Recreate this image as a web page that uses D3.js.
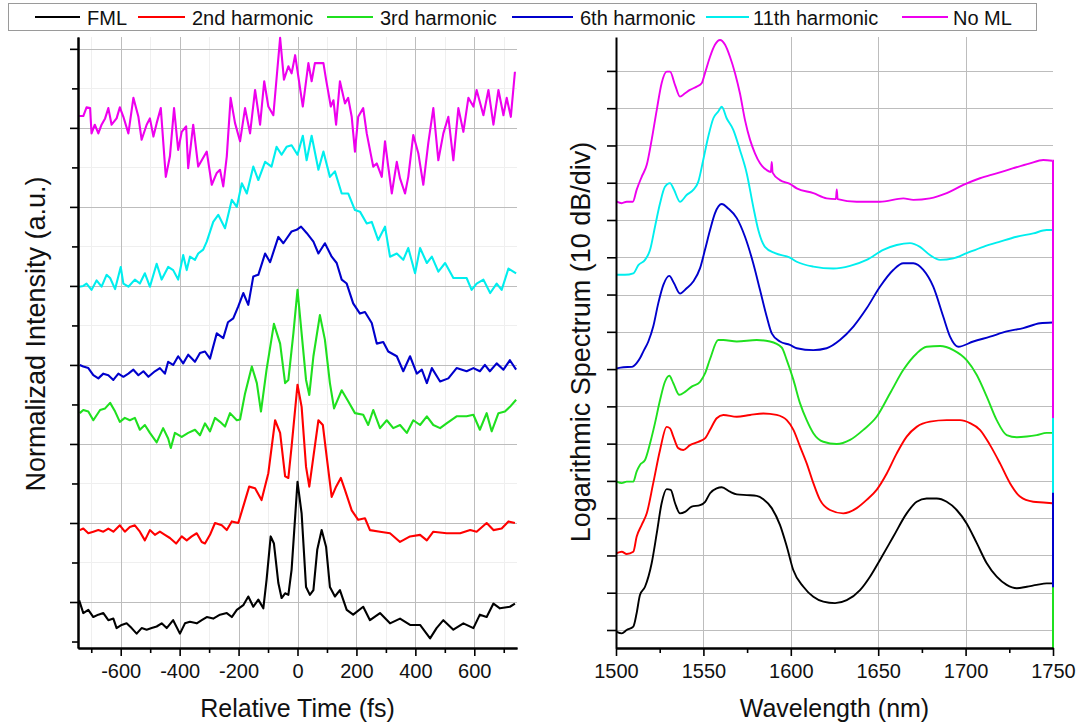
<!DOCTYPE html>
<html>
<head>
<meta charset="utf-8">
<script src="https://cdn.jsdelivr.net/npm/d3@7"></script>
<style>
  body { margin: 0; background: #fff; }
  svg { display: block; font-family: "Liberation Sans", Arial, Helvetica, sans-serif; }
</style>
</head>
<body>
<svg id="chart" width="1083" height="728"></svg>
<script>
// ---- series meta ----
const seriesNames  = ["FML", "2nd harmonic", "3rd harmonic", "6th harmonic", "11th harmonic", "No ML"];
const seriesColors = ["#000000", "#ff0000", "#1fe01f", "#0000cc", "#00eeee", "#ee00ee"];

// ---- axis ticks ----
const timeTicks      = [-600, -400, -200, 0, 200, 400, 600];
const timeMinorTicks = [-700, -500, -300, -100, 100, 300, 500, 700];
const intensityTicks = [0, 1, 2, 3, 4, 5, 6, 7];
const intensityMinor = [-0.5, 0.5, 1.5, 2.5, 3.5, 4.5, 5.5, 6.5];
const wavelengthTicks      = [1500, 1550, 1600, 1650, 1700, 1750];
const wavelengthMinorTicks = [1525, 1575, 1625, 1675, 1725];
const dbTicks = [0, 10, 20, 30, 40, 50, 60, 70, 80, 90, 100, 110, 120, 130, 140, 150];

// ---- autocorrelation traces, stacked: [delay (fs), normalized intensity + offset] ----
const fmlTrace = [[-741,0.02],[-727,-0.14],[-710,-0.10],[-693,-0.19],[-676,-0.16],[-659,-0.14],[-642,-0.23],[-625,-0.21],[-614,-0.33],[-597,-0.29],[-580,-0.27],[-563,-0.33],[-546,-0.40],[-529,-0.33],[-512,-0.35],[-495,-0.33],[-478,-0.31],[-461,-0.27],[-444,-0.33],[-422,-0.23],[-399,-0.40],[-382,-0.27],[-365,-0.25],[-342,-0.27],[-325,-0.23],[-308,-0.19],[-286,-0.21],[-263,-0.16],[-240,-0.14],[-223,-0.19],[-206,-0.10],[-184,-0.04],[-167,0.07],[-150,-0.06],[-133,0.03],[-116,-0.08],[-105,0.28],[-91,0.83],[-80,0.74],[-65,0.24],[-54,0.05],[-42,0.11],[-31,0.09],[-20,0.41],[0,1.52],[14,1.12],[29,0.19],[42,0.09],[54,0.15],[67,0.66],[82,0.91],[97,0.70],[110,0.19],[127,0.07],[144,0.15],[167,-0.10],[189,-0.16],[223,-0.06],[246,-0.23],[280,-0.14],[314,-0.27],[348,-0.21],[382,-0.29],[416,-0.29],[450,-0.46],[472,-0.33],[495,-0.23],[529,-0.35],[563,-0.27],[597,-0.33],[619,-0.16],[642,-0.19],[665,-0.02],[687,-0.08],[721,-0.06],[738,-0.02]];

const h2Trace = [[-739,0.91],[-727,0.93],[-710,0.87],[-693,0.89],[-676,0.91],[-659,0.89],[-642,0.93],[-625,0.89],[-603,0.97],[-586,0.89],[-569,0.95],[-552,0.97],[-535,0.89],[-518,0.78],[-501,0.91],[-484,0.85],[-467,0.89],[-450,0.85],[-433,0.81],[-412,0.74],[-393,0.83],[-376,0.78],[-359,0.83],[-342,0.87],[-325,0.76],[-314,0.74],[-297,0.85],[-280,1.00],[-257,0.97],[-240,0.91],[-223,1.02],[-201,1.00],[-184,1.21],[-164,1.46],[-144,1.44],[-122,1.29],[-99,1.63],[-76,2.30],[-59,2.14],[-42,1.59],[-31,1.57],[-20,1.97],[0,2.75],[14,2.47],[29,1.71],[40,1.46],[54,1.84],[71,2.30],[86,2.24],[99,1.84],[116,1.33],[131,1.46],[147,1.57],[161,1.42],[184,1.16],[206,1.04],[229,1.06],[246,0.91],[280,0.89],[314,0.87],[348,0.76],[382,0.83],[416,0.85],[439,0.78],[461,0.89],[506,0.87],[552,0.87],[586,0.91],[608,0.89],[642,1.00],[665,0.91],[693,0.93],[716,1.02],[738,1.00]];

const h3Trace = [[-739,2.39],[-727,2.43],[-710,2.41],[-693,2.30],[-670,2.43],[-653,2.45],[-636,2.52],[-619,2.41],[-603,2.28],[-586,2.33],[-569,2.30],[-552,2.33],[-535,2.18],[-518,2.24],[-501,2.14],[-478,2.02],[-456,2.20],[-439,2.07],[-430,1.95],[-416,2.14],[-393,2.09],[-371,2.14],[-348,2.18],[-331,2.11],[-314,2.26],[-297,2.16],[-280,2.33],[-263,2.28],[-246,2.22],[-229,2.39],[-206,2.30],[-195,2.31],[-178,2.64],[-155,2.98],[-138,2.77],[-124,2.41],[-105,2.94],[-80,3.52],[-59,3.27],[-42,2.77],[-31,2.81],[-14,3.40],[0,3.95],[14,3.40],[29,2.81],[40,2.62],[54,3.11],[76,3.63],[93,3.32],[110,2.77],[124,2.45],[150,2.68],[172,2.54],[195,2.39],[223,2.37],[240,2.24],[257,2.43],[280,2.20],[303,2.30],[325,2.20],[348,2.24],[371,2.14],[393,2.30],[416,2.24],[439,2.35],[461,2.24],[484,2.20],[506,2.26],[540,2.35],[574,2.35],[597,2.37],[619,2.18],[642,2.39],[659,2.16],[682,2.39],[704,2.41],[721,2.47],[742,2.56]];

const h6Trace = [[-739,3.00],[-727,2.98],[-710,2.96],[-693,2.87],[-676,2.83],[-659,2.89],[-642,2.87],[-625,2.81],[-608,2.89],[-591,2.85],[-574,2.89],[-557,2.94],[-540,2.87],[-523,2.92],[-506,2.85],[-484,2.92],[-467,2.96],[-450,2.89],[-439,3.04],[-422,3.00],[-405,3.11],[-388,3.02],[-371,3.13],[-348,3.04],[-331,3.15],[-314,3.17],[-297,3.08],[-274,3.40],[-252,3.34],[-236,3.54],[-218,3.59],[-201,3.74],[-184,3.91],[-167,3.76],[-150,4.12],[-133,4.14],[-110,4.41],[-93,4.30],[-65,4.62],[-48,4.54],[-20,4.69],[-3,4.71],[12,4.75],[31,4.67],[54,4.56],[71,4.41],[93,4.54],[116,4.37],[133,4.29],[150,4.08],[167,4.03],[189,3.78],[212,3.65],[229,3.67],[252,3.53],[269,3.27],[291,3.29],[308,3.17],[337,3.11],[359,2.92],[382,3.11],[405,2.89],[422,2.94],[439,2.77],[456,2.96],[484,2.79],[512,2.83],[540,2.96],[574,2.92],[597,2.96],[619,2.92],[636,3.00],[653,2.92],[676,3.02],[699,2.94],[721,3.06],[742,2.94]];

const h11Trace = [[-741,3.99],[-727,4.00],[-716,4.03],[-699,3.95],[-682,4.07],[-665,3.99],[-648,4.14],[-636,4.10],[-619,3.96],[-600,4.24],[-591,4.03],[-574,3.99],[-552,4.08],[-535,4.03],[-518,4.16],[-501,3.99],[-478,4.28],[-461,4.08],[-439,4.24],[-422,4.20],[-405,4.08],[-388,4.39],[-376,4.20],[-365,4.37],[-348,4.33],[-337,4.41],[-320,4.46],[-308,4.56],[-286,4.81],[-269,4.90],[-246,4.73],[-223,5.09],[-206,5.00],[-189,5.30],[-172,5.17],[-150,5.51],[-133,5.34],[-110,5.57],[-88,5.51],[-71,5.76],[-54,5.66],[-37,5.76],[-20,5.78],[0,5.66],[18,5.90],[31,5.59],[48,5.90],[71,5.47],[88,5.70],[110,5.38],[127,5.45],[150,5.17],[172,5.17],[195,4.96],[212,4.94],[235,4.79],[252,4.81],[274,4.58],[297,4.75],[314,4.37],[337,4.41],[359,4.33],[376,4.48],[399,4.16],[416,4.48],[439,4.29],[456,4.37],[478,4.18],[501,4.29],[529,4.10],[557,4.10],[574,4.10],[591,3.95],[608,4.03],[631,4.08],[654,3.91],[676,4.03],[693,3.95],[716,4.22],[742,4.16]];

const noMlTrace = [[-741,6.15],[-727,6.15],[-716,6.26],[-704,6.25],[-699,5.93],[-688,6.04],[-676,5.93],[-665,6.04],[-653,6.12],[-642,6.25],[-631,6.04],[-614,6.12],[-603,6.26],[-591,6.14],[-574,5.93],[-557,6.38],[-540,6.14],[-529,5.85],[-512,6.04],[-501,6.12],[-489,5.89],[-478,6.06],[-464,6.25],[-447,5.38],[-433,5.64],[-419,6.25],[-405,5.72],[-393,5.95],[-378,6.02],[-371,5.49],[-354,6.04],[-337,5.51],[-325,5.59],[-308,5.70],[-291,5.28],[-274,5.43],[-263,5.47],[-252,5.26],[-240,5.64],[-227,6.38],[-212,6.06],[-195,5.83],[-178,6.25],[-161,5.93],[-144,6.48],[-127,6.04],[-113,6.59],[-99,6.27],[-82,6.16],[-59,7.14],[-46,6.61],[-31,6.78],[-20,6.69],[-8,6.92],[6,6.57],[18,6.27],[37,6.82],[48,6.59],[59,6.82],[88,6.82],[97,6.61],[113,6.27],[122,6.35],[131,6.04],[144,6.59],[161,6.31],[172,6.38],[184,6.14],[195,5.70],[206,6.14],[223,6.25],[235,5.93],[257,5.51],[269,5.55],[286,5.38],[297,5.83],[308,5.51],[320,5.17],[337,5.57],[348,5.36],[365,5.17],[376,5.38],[393,5.91],[410,5.68],[427,5.28],[444,5.81],[461,6.25],[478,5.59],[495,5.93],[512,6.14],[529,5.59],[546,6.25],[563,5.95],[580,6.38],[597,6.27],[608,6.48],[631,6.16],[648,6.48],[665,6.04],[682,6.48],[699,6.16],[710,6.38],[724,6.14],[738,6.71]];

// ---- optical spectra, stacked by 10 dB/div: [wavelength (nm), level (dB)] ----
const fmlSpectrum = [[1500.4,-0.5],[1503.3,-0.9],[1506.1,0],[1509.9,0.9],[1511.8,4.5],[1513.7,9.4],[1516.6,11.6],[1520.4,17.9],[1523.3,25.9],[1526.1,34.0],[1529.0,37.8],[1531.3,37.6],[1533.8,34.0],[1536.6,31.3],[1539.5,31.7],[1543.3,33.1],[1548.1,33.5],[1551.0,34.4],[1553.8,36.7],[1557.6,38.0],[1560.5,38.3],[1565.2,37.1],[1569.1,36.4],[1574.8,36.2],[1580.5,36.0],[1584.3,35.1],[1589.1,32.7],[1593.8,28.2],[1597.7,22.4],[1601.4,16.1],[1607.2,11.6],[1612.9,8.9],[1618.6,7.6],[1625.3,7.2],[1632.0,8.0],[1639.6,10.7],[1645.3,14.3],[1651.0,18.8],[1658.6,25.0],[1666.3,31.3],[1672.0,34.4],[1677.7,35.3],[1683.5,35.3],[1689.2,34.4],[1694.9,32.2],[1700.6,28.6],[1706.4,23.3],[1712.1,17.9],[1717.8,14.3],[1723.5,12.1],[1729.3,11.2],[1735.0,11.6],[1740.7,12.1],[1746.4,12.5],[1749.7,12.5]];

const h2Spectrum = [[1500.4,20.6],[1503.3,21.0],[1506.1,20.4],[1509.9,21.0],[1511.8,25.0],[1514.7,28.2],[1517.6,31.3],[1521.3,39.4],[1525.2,48.3],[1529.0,54.5],[1530.9,54.1],[1532.8,51.9],[1535.6,48.8],[1538.5,48.3],[1542.3,49.6],[1547.1,50.5],[1550.9,51.4],[1553.8,53.7],[1557.6,56.8],[1561.4,57.7],[1569.1,57.2],[1576.7,57.7],[1584.3,58.1],[1591.9,57.7],[1597.7,56.3],[1601.5,53.7],[1605.3,49.2],[1609.1,44.7],[1612.9,39.4],[1616.7,34.9],[1622.4,32.2],[1630.0,31.3],[1637.7,32.7],[1643.4,34.9],[1649.1,37.6],[1654.9,42.0],[1660.6,47.4],[1666.3,51.9],[1672.0,54.5],[1679.6,55.9],[1689.2,56.3],[1696.8,56.3],[1702.5,55.5],[1708.2,53.7],[1714.0,49.6],[1719.7,44.7],[1725.4,39.4],[1731.1,35.8],[1738.7,34.4],[1744.5,34.2],[1749.7,34.0]];

const h3Spectrum = [[1500.4,39.8],[1503.3,39.4],[1506.1,39.8],[1509.9,39.8],[1511.8,42.5],[1513.7,44.3],[1516.6,45.6],[1519.5,50.1],[1522.3,55.5],[1525.2,61.7],[1528.0,66.6],[1530.5,68.2],[1532.8,66.2],[1536.2,63.1],[1539.5,63.9],[1543.3,65.3],[1548.1,66.6],[1551.0,68.9],[1553.8,72.7],[1558.5,77.8],[1561.4,77.8],[1569.1,77.4],[1580.5,77.8],[1588.1,77.4],[1594.8,75.8],[1597.7,72.4],[1601.5,67.1],[1605.3,60.8],[1609.1,56.3],[1612.9,52.8],[1618.6,50.5],[1626.3,49.9],[1633.9,51.0],[1641.5,53.7],[1649.1,57.2],[1656.8,63.5],[1664.4,69.8],[1672.0,74.2],[1677.7,76.0],[1685.4,76.2],[1693.0,75.1],[1700.6,72.4],[1706.4,68.4],[1712.1,62.6],[1717.8,56.3],[1723.5,52.3],[1729.3,51.7],[1735.0,51.9],[1740.7,52.3],[1746.4,52.9],[1749.7,52.9]];

const h6Spectrum = [[1500.4,70.2],[1504.2,70.5],[1509.0,70.6],[1511.8,71.6],[1513.7,72.9],[1515.6,74.7],[1518.5,77.4],[1521.3,81.4],[1524.2,87.7],[1527.1,92.6],[1530.5,95.0],[1533.2,93.0],[1536.6,90.3],[1540.4,91.7],[1544.2,93.5],[1548.1,97.1],[1550.9,102.0],[1553.8,107.3],[1556.6,111.8],[1560.5,114.3],[1564.2,113.1],[1569.1,110.5],[1573.8,105.5],[1578.5,98.4],[1582.4,91.2],[1586.2,84.1],[1589.1,79.6],[1593.8,77.4],[1599.5,76.5],[1603.4,75.6],[1612.9,75.1],[1620.5,75.6],[1628.1,77.8],[1635.8,81.4],[1643.4,86.3],[1651.0,92.1],[1658.6,96.6],[1664.4,98.4],[1670.1,98.4],[1675.8,96.6],[1681.5,92.1],[1687.2,84.1],[1691.1,78.7],[1695.8,76.0],[1704.4,77.4],[1714.0,78.7],[1723.5,80.1],[1733.0,81.0],[1742.6,82.3],[1749.7,82.5]];

const h11Spectrum = [[1500.4,95.3],[1505.1,95.3],[1509.9,95.7],[1512.8,97.9],[1516.6,99.3],[1519.5,102.0],[1522.3,108.2],[1525.2,114.5],[1528.0,118.9],[1530.9,119.9],[1533.2,118.1],[1536.6,114.9],[1540.4,116.7],[1544.2,118.1],[1547.1,120.3],[1549.9,126.1],[1552.8,132.4],[1555.7,137.3],[1558.5,139.1],[1560.5,140.4],[1563.3,137.3],[1567.1,134.2],[1570.9,128.8],[1574.8,122.5],[1578.5,113.6],[1581.4,107.3],[1585.2,102.8],[1591.0,101.1],[1599.5,99.9],[1603.4,98.8],[1612.9,97.5],[1624.3,97.0],[1633.9,97.7],[1643.4,99.3],[1652.9,102.0],[1660.6,103.3],[1668.2,103.8],[1673.9,102.8],[1679.6,100.6],[1685.4,99.3],[1693.0,99.7],[1700.6,101.1],[1710.1,102.8],[1719.7,104.2],[1729.2,105.5],[1738.7,106.4],[1746.4,107.3],[1749.7,107.3]];

const noMlSpectrum = [[1500.4,114.9],[1503.3,114.5],[1506.1,114.9],[1509.6,114.9],[1511.8,118.1],[1514.7,121.6],[1517.6,124.8],[1520.4,131.5],[1523.3,139.5],[1526.1,146.7],[1529.0,149.8],[1530.9,149.8],[1533.8,146.2],[1536.6,143.1],[1539.5,144.0],[1542.3,144.9],[1546.2,145.8],[1549.0,146.7],[1550.9,149.4],[1553.8,153.8],[1556.6,157.0],[1559.5,158.3],[1562.4,157.0],[1565.2,153.8],[1568.1,149.4],[1570.9,144.0],[1573.8,136.8],[1576.7,131.5],[1579.5,127.9],[1582.4,125.2],[1586.2,123.4],[1588.6,122.9],[1589.1,125.6],[1589.6,122.7],[1593.8,120.7],[1599.5,119.7],[1603.4,118.5],[1612.9,117.2],[1620.5,115.8],[1625.8,115.6],[1626.3,118.2],[1626.8,115.6],[1637.7,114.9],[1651.0,114.9],[1664.4,115.8],[1670.1,115.4],[1679.6,115.8],[1689.2,117.2],[1698.7,119.4],[1708.2,121.2],[1717.7,122.5],[1727.3,123.9],[1736.8,125.2],[1744.4,126.1],[1749.7,125.9]];

// level each spectrum trace falls to at the 1750 nm edge of the scan
const spectrumEdgeDrop = [-20, -20, -20, 11.5, 36.8, 56.9];

const traces  = [fmlTrace, h2Trace, h3Trace, h6Trace, h11Trace, noMlTrace];
const spectra = [fmlSpectrum, h2Spectrum, h3Spectrum, h6Spectrum, h11Spectrum, noMlSpectrum];

// ---- layout ----
const svg = d3.select("#chart");
const plotTop = 37, plotBottom = 648;
const L = { x0: 78, x1: 517 };
const R = { x0: 616, x1: 1053 };

const xTime = d3.scaleLinear().domain([-745, 745]).range([L.x0, L.x1]);
const yInt  = d3.scaleLinear().domain([-0.582, 7.15]).range([plotBottom, plotTop]);
const xWl   = d3.scaleLinear().domain([1500, 1750]).range([R.x0, R.x1]);
const yDb   = d3.scaleLinear().domain([-4.83, 159.1]).range([plotBottom, plotTop]);

const defs = svg.append("defs");
defs.append("clipPath").attr("id", "clipL").append("rect")
  .attr("x", L.x0).attr("y", plotTop - 2).attr("width", L.x1 - L.x0).attr("height", plotBottom - plotTop + 2);
defs.append("clipPath").attr("id", "clipR").append("rect")
  .attr("x", R.x0).attr("y", plotTop - 2).attr("width", R.x1 - R.x0 + 2).attr("height", plotBottom - plotTop + 2);

// ---- grids ----
function grid(g, xs, xScale, ys, yScale, x0, x1, color) {
  g.selectAll(null).data(xs).join("line")
    .attr("x1", d => Math.round(xScale(d)) + 0.5).attr("x2", d => Math.round(xScale(d)) + 0.5)
    .attr("y1", plotTop).attr("y2", plotBottom).attr("stroke", color).attr("stroke-width", 1);
  g.selectAll(null).data(ys).join("line")
    .attr("x1", x0).attr("x2", x1)
    .attr("y1", d => Math.round(yScale(d)) + 0.5).attr("y2", d => Math.round(yScale(d)) + 0.5)
    .attr("stroke", color).attr("stroke-width", 1);
}
const gGrid = svg.append("g");
grid(gGrid.append("g"), timeMinorTicks, xTime, intensityMinor.filter(v => v > 0), yInt, L.x0, L.x1, "#efefef");
grid(gGrid.append("g"), timeTicks, xTime, intensityTicks, yInt, L.x0, L.x1, "#bdbdbd");
grid(gGrid.append("g"), wavelengthTicks.slice(1, -1), xWl, dbTicks, yDb, R.x0, R.x1, "#bdbdbd");

// ---- curves ----
const traceLine = d3.line().x(d => xTime(d[0])).y(d => yInt(d[1])).curve(d3.curveLinear);
const specLine  = d3.line().x(d => xWl(d[0])).y(d => yDb(d[1])).curve(d3.curveMonotoneX);
const edgeLine  = d3.line().x(d => xWl(d[0])).y(d => yDb(d[1]));

const gL = svg.append("g").attr("clip-path", "url(#clipL)");
traces.forEach((tr, i) => {
  gL.append("path").datum(tr).attr("d", traceLine)
    .attr("fill", "none").attr("stroke", seriesColors[i])
    .attr("stroke-width", 2.1).attr("stroke-linejoin", "round");
});

const gR = svg.append("g").attr("clip-path", "url(#clipR)");
spectra.forEach((sp, i) => {
  gR.append("path").datum(sp).attr("d", specLine)
    .attr("fill", "none").attr("stroke", seriesColors[i])
    .attr("stroke-width", 1.9).attr("stroke-linejoin", "round");
  const last = sp[sp.length - 1];
  gR.append("path").datum([last, [1750, last[1]], [1750, spectrumEdgeDrop[i]]]).attr("d", edgeLine)
    .attr("fill", "none").attr("stroke", seriesColors[i]).attr("stroke-width", 2);
});

// ---- axes ----
function styleAxis(g, width) {
  g.select(".domain").attr("stroke", "#000").attr("stroke-width", width);
  g.selectAll(".tick line").attr("stroke", "#000").attr("stroke-width", 1.6);
  g.selectAll(".tick text").attr("fill", "#111").style("font-size", "20px");
}

// left panel
svg.append("g").attr("transform", `translate(0,${plotBottom})`)
  .call(d3.axisBottom(xTime).tickValues(timeMinorTicks).tickSize(5).tickSizeOuter(0).tickFormat(""))
  .call(g => styleAxis(g, 2));
svg.append("g").attr("transform", `translate(0,${plotBottom})`)
  .call(d3.axisBottom(xTime).tickValues(timeTicks).tickSize(8).tickSizeOuter(0).tickPadding(8).tickFormat(d3.format("d")))
  .call(g => styleAxis(g, 2))
  .call(g => g.selectAll(".tick text").text(d => d < 0 ? "-" + Math.abs(d) : d));
svg.append("g").attr("transform", `translate(${L.x0},0)`)
  .call(d3.axisLeft(yInt).tickValues(intensityMinor).tickSize(6).tickSizeOuter(0).tickFormat(""))
  .call(g => styleAxis(g, 2));
svg.append("g").attr("transform", `translate(${L.x0},0)`)
  .call(d3.axisLeft(yInt).tickValues(intensityTicks).tickSize(8).tickSizeOuter(0).tickFormat(""))
  .call(g => styleAxis(g, 2));

// right panel
svg.append("g").attr("transform", `translate(0,${plotBottom})`)
  .call(d3.axisBottom(xWl).tickValues(wavelengthMinorTicks).tickSize(5).tickSizeOuter(0).tickFormat(""))
  .call(g => styleAxis(g, 2));
svg.append("g").attr("transform", `translate(0,${plotBottom})`)
  .call(d3.axisBottom(xWl).tickValues(wavelengthTicks).tickSize(8).tickSizeOuter(0).tickPadding(8).tickFormat(d3.format("d")))
  .call(g => styleAxis(g, 2));
svg.append("g").attr("transform", `translate(${R.x0},0)`)
  .call(d3.axisLeft(yDb).tickValues(dbTicks).tickSize(9).tickSizeOuter(0).tickFormat(""))
  .call(g => styleAxis(g, 2));

// ---- axis titles ----
const titleStyle = (s, size) => s.attr("fill", "#111").style("font-size", size + "px").attr("text-anchor", "middle");
svg.append("text").attr("x", (L.x0 + L.x1) / 2).attr("y", 717).text("Relative Time (fs)").call(titleStyle, 25);
svg.append("text").attr("x", (R.x0 + R.x1) / 2).attr("y", 717).text("Wavelength (nm)").call(titleStyle, 25);
svg.append("text").attr("transform", "translate(45,334) rotate(-90)").text("Normalizad Intensity (a.u.)").call(titleStyle, 27);
svg.append("text").attr("transform", "translate(590,342) rotate(-90)").text("Logarithmic Spectrum (10 dB/div)").call(titleStyle, 27);

// ---- legend ----
const legend = svg.append("g");
legend.append("rect").attr("x", 8.5).attr("y", 3.5).attr("width", 1028).attr("height", 27)
  .attr("fill", "#fff").attr("stroke", "#9a9a9a").attr("stroke-width", 1);
const legendLineX = [[35, 80], [138, 185], [327, 373], [512, 573], [706, 749], [902, 948]];
const legendTextX = [87, 192, 380, 580, 753, 953];
seriesNames.forEach((name, i) => {
  legend.append("line").attr("x1", legendLineX[i][0]).attr("x2", legendLineX[i][1])
    .attr("y1", 17).attr("y2", 17).attr("stroke", seriesColors[i]).attr("stroke-width", 1.8);
  legend.append("text").attr("x", legendTextX[i]).attr("y", 24.5).text(name)
    .attr("fill", "#111").style("font-size", "20px");
});
</script>
</body>
</html>
